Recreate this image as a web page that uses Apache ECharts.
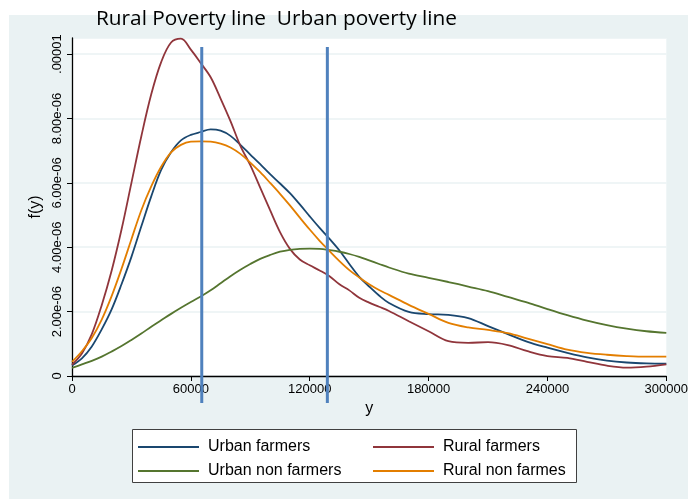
<!DOCTYPE html>
<html>
<head>
<meta charset="utf-8">
<script src="https://cdn.jsdelivr.net/npm/echarts@6/dist/echarts.min.js"></script>
<style>
  html, body { margin: 0; padding: 0; background: #ffffff; }
  #chart { width: 691px; height: 499px; }
</style>
</head>
<body>
<div id="chart"></div>
<script>
// Income grid (y) and kernel density estimates f(y), densities in units of 1e-6
const incomeY = [
  0, 5000, 10000, 15000, 20000, 25000, 30000, 35000, 40000, 45000,
  50000, 55000, 60000, 65000, 70000, 75000, 80000, 85000, 90000, 95000,
  100000, 105000, 110000, 115000, 120000, 125000, 130000, 135000, 140000, 145000,
  150000, 155000, 160000, 170000, 180000, 190000, 200000, 210000, 220000, 230000,
  240000, 250000, 260000, 270000, 280000, 290000, 300000
];
const urbanFarmers = [
  0.33, 0.55, 0.92, 1.45, 2.07, 2.85, 3.70, 4.65, 5.58, 6.40,
  6.95, 7.32, 7.49, 7.58, 7.66, 7.62, 7.46, 7.18, 6.88, 6.58,
  6.27, 5.98, 5.68, 5.33, 4.96, 4.60, 4.26, 3.90, 3.48, 3.08,
  2.78, 2.50, 2.27, 1.99, 1.92, 1.90, 1.80, 1.55, 1.30, 1.06,
  0.88, 0.72, 0.58, 0.48, 0.42, 0.39, 0.38
];
const ruralFarmers = [
  0.35, 0.70, 1.30, 2.20, 3.27, 4.55, 6.00, 7.45, 8.75, 9.75,
  10.36, 10.48, 10.14, 9.72, 9.28, 8.62, 7.92, 7.15, 6.55, 5.85,
  5.15, 4.47, 3.95, 3.62, 3.44, 3.28, 3.10, 2.85, 2.66, 2.43,
  2.28, 2.15, 2.02, 1.70, 1.39, 1.08, 1.03, 1.05, 0.96, 0.77,
  0.62, 0.56, 0.44, 0.32, 0.26, 0.29, 0.36
];
const urbanNonFarmers = [
  0.25, 0.36, 0.47, 0.60, 0.76, 0.93, 1.12, 1.32, 1.53, 1.73,
  1.93, 2.12, 2.30, 2.47, 2.66, 2.88, 3.10, 3.30, 3.48, 3.64,
  3.76, 3.86, 3.92, 3.95, 3.96, 3.95, 3.91, 3.86, 3.79, 3.70,
  3.59, 3.48, 3.37, 3.18, 3.05, 2.92, 2.78, 2.64, 2.46, 2.28,
  2.08, 1.89, 1.72, 1.58, 1.47, 1.39, 1.34
];
const ruralNonFarmers = [
  0.44, 0.77, 1.18, 1.75, 2.48, 3.33, 4.25, 5.15, 5.89, 6.50,
  6.95, 7.18, 7.28, 7.29, 7.28, 7.22, 7.10, 6.90, 6.63, 6.33,
  6.00, 5.66, 5.30, 4.92, 4.55, 4.20, 3.88, 3.57, 3.29, 3.06,
  2.85, 2.67, 2.52, 2.21, 1.93, 1.65, 1.51, 1.43, 1.33, 1.16,
  0.99, 0.82, 0.72, 0.66, 0.62, 0.60, 0.60
];
// Poverty lines (income) and the vertical extent drawn for them (density, 1e-6)
const povertyLines = [65500, 128900];
const povertyLineSpan = [10.22, -0.84];

const seriesNames = ['Urban farmers', 'Rural farmers', 'Urban non farmers', 'Rural non farmes'];
const seriesColors = ['#1A476F', '#90353B', '#55752F', '#E37E00'];
const seriesValues = [urbanFarmers, ruralFarmers, urbanNonFarmers, ruralNonFarmers];

const SCALE = 1e-6;
const pairs = vals => incomeY.map((x, i) => [x, vals[i] * SCALE]);

const curveSeries = seriesNames.map((name, k) => ({
  name: name,
  type: 'line',
  data: pairs(seriesValues[k]),
  smooth: 0.35,
  showSymbol: false,
  symbol: 'none',
  color: seriesColors[k],
  lineStyle: { color: seriesColors[k], width: 1.8 },
  z: 3
}));

const lineSeries = povertyLines.map(x => ({
  name: 'poverty' + x,
  type: 'line',
  data: povertyLineSpan.map(v => [x, v * SCALE]),
  showSymbol: false,
  symbol: 'none',
  clip: false,
  silent: true,
  lineStyle: { color: '#4F81BD', width: 3 },
  z: 4
}));

function yLabel(v) {
  if (Math.abs(v) < 1e-12) return '0';
  if (Math.abs(v - 1e-5) < 1e-12) return '.00001';
  return v.toExponential(2).replace(/e-(\d)$/, 'e-0$1');
}

const FONT = "'Liberation Sans', Arial, sans-serif";

const chart = echarts.init(document.getElementById('chart'), null, { renderer: 'canvas' });
chart.setOption({
  backgroundColor: '#ffffff',
  animation: false,
  graphic: [
    { type: 'rect', shape: { x: 9, y: 15, width: 679, height: 484 }, style: { fill: '#EAF2F3' }, z: -10, silent: true },
    { type: 'rect', shape: { x: 132.5, y: 429.5, width: 444, height: 53 }, style: { fill: '#ffffff', stroke: '#404040', lineWidth: 1 }, z: 0, silent: true },
    { type: 'text', left: 96, top: 9, z: 10,
      style: { text: 'Rural Poverty line  Urban poverty line', font: "20.8px 'Open Sans'", fill: '#000000' } }
  ],
  grid: { left: 72, right: 21.5, top: 38, bottom: 123, show: true, backgroundColor: '#ffffff', borderWidth: 0 },
  legend: [
    {
      data: [seriesNames[0], seriesNames[2]],
      orient: 'vertical', left: 138, top: 439, padding: 0, itemGap: 8,
      icon: 'rect', itemWidth: 61, itemHeight: 2,
      textStyle: { fontFamily: FONT, fontSize: 16, color: '#000', lineHeight: 16, padding: [0, 0, 0, 4] },
      selectedMode: false
    },
    {
      data: [seriesNames[1], seriesNames[3]],
      orient: 'vertical', left: 373, top: 439, padding: 0, itemGap: 8,
      icon: 'rect', itemWidth: 61, itemHeight: 2,
      textStyle: { fontFamily: FONT, fontSize: 16, color: '#000', lineHeight: 16, padding: [0, 0, 0, 4] },
      selectedMode: false
    }
  ],
  xAxis: {
    type: 'value', min: 0, max: 300000, interval: 60000,
    name: 'y', nameLocation: 'middle', nameGap: 25,
    nameTextStyle: { fontFamily: FONT, fontSize: 16, color: '#000' },
    axisLine: { show: true, lineStyle: { color: '#000', width: 1.3 } },
    axisTick: { show: true, length: 5, lineStyle: { color: '#000' } },
    axisLabel: { fontFamily: FONT, fontSize: 13, color: '#000', margin: 7, formatter: v => String(v) },
    splitLine: { show: false }
  },
  yAxis: {
    type: 'value', min: 0, max: 1.05e-5, interval: 2e-6,
    name: 'f(y)', nameLocation: 'middle', nameGap: 26, nameRotate: 90,
    nameTextStyle: { fontFamily: FONT, fontSize: 16, color: '#000' },
    axisLine: { show: true, lineStyle: { color: '#000', width: 1.3 } },
    axisTick: { show: true, length: 5, lineStyle: { color: '#000' } },
    axisLabel: { fontFamily: FONT, fontSize: 13, color: '#000', rotate: 90, margin: 8, formatter: yLabel },
    splitLine: { show: true, lineStyle: { color: '#EAF2F3', width: 1.5 } }
  },
  series: curveSeries.concat(lineSeries)
});
</script>
</body>
</html>
